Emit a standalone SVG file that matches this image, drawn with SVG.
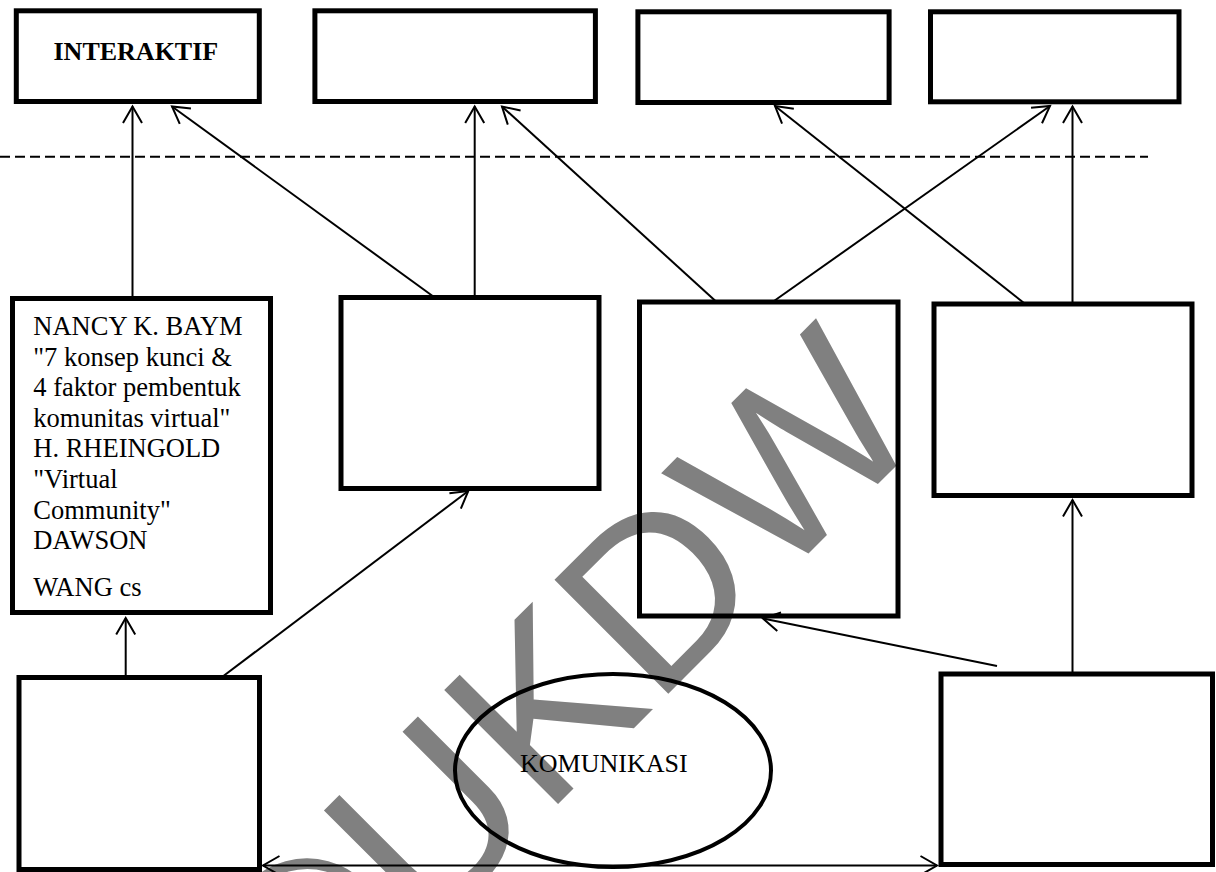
<svg xmlns="http://www.w3.org/2000/svg" width="1216" height="872" viewBox="0 0 1216 872">
<style>
.box{fill:none;stroke:#000;stroke-width:5}
.ln{fill:none;stroke:#000;stroke-width:2}
.t{font-family:"Liberation Serif","Times New Roman",serif;font-size:26px;fill:#000}
.tb{font-family:"Liberation Serif","Times New Roman",serif;font-size:26.5px;fill:#000}
.wm{font-family:"Liberation Sans",Arial,sans-serif;font-size:234px;fill:#808080}
</style>
<defs>
<marker id="ah" viewBox="-20 -12 24 24" refX="0" refY="0" markerWidth="24" markerHeight="24" markerUnits="userSpaceOnUse" orient="auto-start-reverse">
<path d="M-16.5,-9.5 L0,0 L-16.5,9.5" fill="none" stroke="#000" stroke-width="2"/>
</marker>
</defs>
<rect width="1216" height="872" fill="#fff"/>
<g id="watermark">
<text class="wm" transform="translate(303,1059) rotate(-45)">©UKDW</text>
</g>
<g id="divider">
<line x1="0" y1="156.7" x2="1148" y2="156.7" stroke="#000" stroke-width="2" stroke-dasharray="10 5"/>
</g>
<g id="top-interaktif">
<rect class="box" x="16.3" y="10.8" width="243" height="90.7"/>
<text class="t" x="53.5" y="60" font-weight="bold">INTERAKTIF</text>
</g>
<g id="top-2"><rect class="box" x="314.9" y="10.8" width="280.5" height="90.7"/></g>
<g id="top-3"><rect class="box" x="637.9" y="11.8" width="251.2" height="90.7"/></g>
<g id="top-4"><rect class="box" x="930.5" y="11.8" width="248.5" height="90"/></g>
<g id="mid-sources">
<rect class="box" x="12.5" y="298.5" width="258" height="314"/>
<text class="tb" x="33.3">
<tspan x="33.3" y="335">NANCY K. BAYM</tspan>
<tspan x="33.3" y="365.6">"7 konsep kunci &amp;</tspan>
<tspan x="33.3" y="396.2">4 faktor pembentuk</tspan>
<tspan x="33.3" y="426.8">komunitas virtual"</tspan>
<tspan x="33.3" y="457.4">H. RHEINGOLD</tspan>
<tspan x="33.3" y="488">"Virtual</tspan>
<tspan x="33.3" y="518.6">Community"</tspan>
<tspan x="33.3" y="549.3">DAWSON</tspan>
<tspan x="33.3" y="596">WANG cs</tspan>
</text>
</g>
<g id="mid-2"><rect class="box" x="341" y="297.5" width="258" height="191"/></g>
<g id="mid-3"><rect class="box" x="639.5" y="302" width="258.5" height="314"/></g>
<g id="mid-4"><rect class="box" x="934" y="304" width="258" height="191.5"/></g>
<g id="bottom-1"><rect class="box" x="19" y="677.5" width="240.5" height="192"/></g>
<g id="bottom-4"><rect class="box" x="941" y="674" width="271.5" height="190.5"/></g>
<g id="komunikasi">
<ellipse cx="613" cy="770.5" rx="158" ry="96.5" fill="none" stroke="#000" stroke-width="4"/>
<text class="t" x="520" y="771.7">KOMUNIKASI</text>
</g>
<g id="connectors" class="ln">
<line x1="132.5" y1="298" x2="132.5" y2="106.5" marker-end="url(#ah)"/>
<line x1="434" y1="297" x2="172" y2="106.5" marker-end="url(#ah)"/>
<line x1="474.7" y1="297" x2="474.7" y2="106.5" marker-end="url(#ah)"/>
<line x1="715.5" y1="301" x2="502" y2="106.5" marker-end="url(#ah)"/>
<line x1="774" y1="301" x2="1050" y2="106" marker-end="url(#ah)"/>
<line x1="1024" y1="303" x2="775" y2="106" marker-end="url(#ah)"/>
<line x1="1072.5" y1="303" x2="1072.5" y2="106.5" marker-end="url(#ah)"/>
<line x1="125.7" y1="676" x2="125.7" y2="618" marker-end="url(#ah)"/>
<line x1="223.4" y1="676" x2="468.3" y2="491" marker-end="url(#ah)"/>
<line x1="997" y1="666" x2="763" y2="618.5" marker-end="url(#ah)"/>
<line x1="1072.5" y1="673" x2="1072.5" y2="500" marker-end="url(#ah)"/>
<line x1="263" y1="865.5" x2="937" y2="865.5" marker-start="url(#ah)" marker-end="url(#ah)"/>
</g>
</svg>
